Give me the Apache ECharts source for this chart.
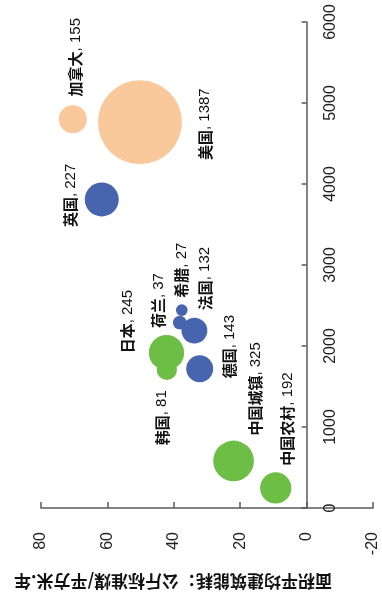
<!DOCTYPE html>
<html>
<head>
<meta charset="utf-8">
<script src="https://cdn.jsdelivr.net/npm/echarts@6/dist/echarts.min.js"></script>
<style>
  html, body { margin: 0; padding: 0; background: #ffffff; }
  #chart { width: 382px; height: 597px; }
</style>
</head>
<body>
<div id="chart"></div>
<script>
// Building energy: per-area intensity vs. total, bubble area = labelled value
const countries   = ['美国', '加拿大', '英国', '荷兰', '希腊', '法国', '德国', '日本', '韩国', '中国城镇', '中国农村'];
const intensity   = [50.2, 70.4, 61.7, 38.2, 37.6, 33.8, 32.2, 42.2, 42.1, 22.0, 9.3];
const totalEnergy = [4763, 4800, 3810, 2289, 2443, 2190, 1720, 1918, 1707, 581, 247];
const bubbleValue = [1387, 155, 227, 37, 27, 132, 143, 245, 81, 325, 192];
const groupIndex  = [0, 0, 1, 1, 1, 1, 1, 2, 2, 2, 2];

// Styling
const groupColors = ['#F9C99C', '#4765AE', '#6CBE45'];
// label shift on screen [right, down] from the bubble centre
const labelShift = [[65, 2], [2.5, -62], [-31, -4], [-21, -22], [0, -40], [10.5, -52],
                    [30, -22], [-39, -31], [-5, 48], [22, -72], [12, -69]];
const axisTitle = '面积平均建筑能耗：公斤标准煤/平方米.年';
const sizeScale = 2.2555;  // diameter per sqrt(value)

// labels are turned 90°, so their offset is given in the turned frame
const toLabelOffset = s => [-s[1], s[0]];

const seriesList = groupColors.map((color, g) => ({
  type: 'scatter',
  data: countries
    .map((name, i) => ({ i, name }))
    .filter(d => groupIndex[d.i] === g)
    .map(d => ({
      name: d.name,
      value: [intensity[d.i], totalEnergy[d.i], bubbleValue[d.i]],
      label: { offset: toLabelOffset(labelShift[d.i]) }
    })),
  symbolSize: v => sizeScale * Math.sqrt(v[2]),
  itemStyle: { color: color, opacity: 1 },
  label: {
    show: true,
    position: 'inside',
    rotate: 90,
    align: 'center',
    verticalAlign: 'middle',
    formatter: p => '{n|' + p.name + '}{v|, ' + p.value[2] + '}',
    rich: {
      n: { fontFamily: '"Noto Sans CJK SC"', fontWeight: 'bold', fontSize: 15, color: '#111' },
      v: { fontFamily: '"Liberation Sans", Arial', fontSize: 15, color: '#111' }
    }
  },
  emphasis: { disabled: true }
}));

const gridLeft = 41, gridRight = 9;
const chartWidth = 382;
const xMin = -20, xMax = 80;
// the vertical axis sits where the horizontal value is 0
const plotWidth = chartWidth - gridLeft - gridRight;
const yAxisShift = -plotWidth * (0 - xMin) / (xMax - xMin);

const chart = echarts.init(document.getElementById('chart'), null, { renderer: 'canvas' });
chart.setOption({
  animation: false,
  backgroundColor: '#ffffff',
  grid: { left: gridLeft, right: gridRight, top: 22, bottom: 89, containLabel: false, outerBoundsMode: 'none' },
  xAxis: {
    type: 'value',
    min: xMin, max: xMax, interval: 20,
    inverse: true,
    splitLine: { show: false },
    axisLine: { show: true, onZero: false, lineStyle: { color: '#5a5a5a', width: 1.5 } },
    axisTick: { show: true, inside: true, length: 6, lineStyle: { color: '#5a5a5a', width: 1.5 } },
    axisLabel: {
      rotate: 90, margin: 24, fontSize: 16,
      fontFamily: '"Liberation Sans", Arial', color: '#222',
      formatter: v => String(v)
    }
  },
  yAxis: {
    type: 'value',
    position: 'right',
    offset: yAxisShift,
    min: 0, max: 6000, interval: 1000,
    splitLine: { show: false },
    axisLine: { show: true, onZero: false, lineStyle: { color: '#5a5a5a', width: 1.5 } },
    axisTick: { show: true, inside: true, length: 5, lineStyle: { color: '#5a5a5a', width: 1.5 } },
    axisLabel: {
      show: true, inside: false,
      rotate: 90, margin: 16, fontSize: 16,
      fontFamily: '"Liberation Sans", Arial', color: '#222',
      formatter: v => String(v)
    }
  },
  graphic: [{
    type: 'text',
    x: 173, y: 581,
    rotation: Math.PI,
    style: {
      text: axisTitle,
      fontFamily: '"Noto Sans CJK SC"',
      fontWeight: 'bold',
      fontSize: 17,
      fill: '#111',
      align: 'center',
      verticalAlign: 'middle'
    }
  }],
  series: seriesList
});
</script>
</body>
</html>
